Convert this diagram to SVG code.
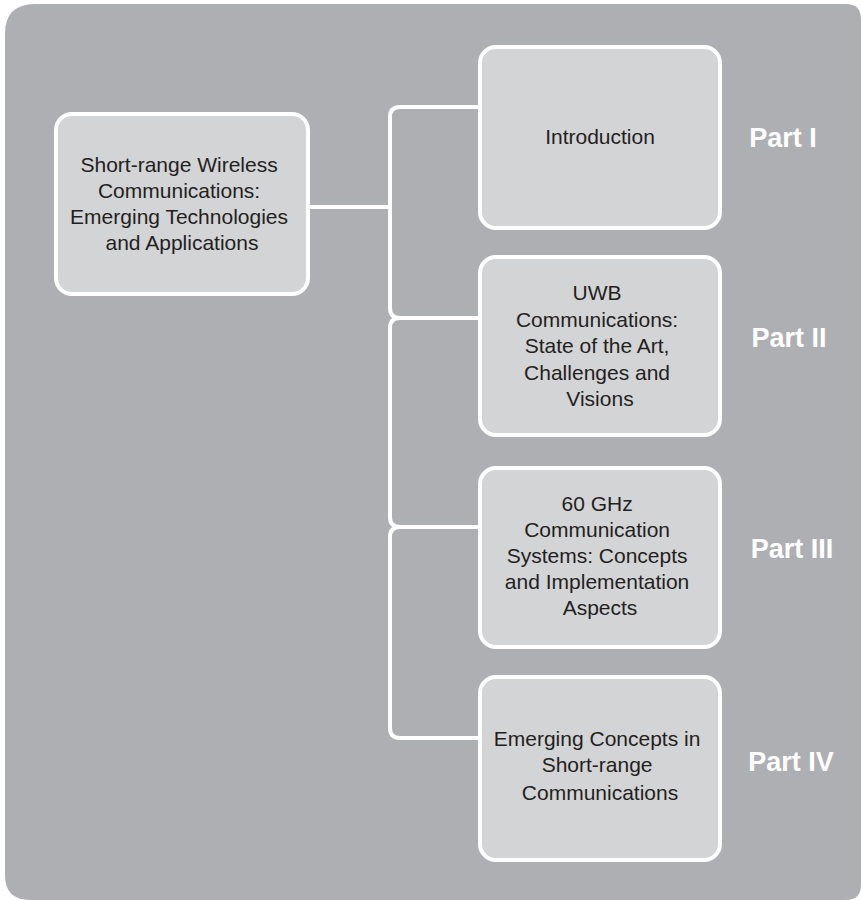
<svg xmlns="http://www.w3.org/2000/svg" width="861" height="900" viewBox="0 0 861 900">
  <style>
    .box { fill: #D3D4D6; stroke: #FFFFFF; stroke-width: 4; }
    .label { font-family: "Liberation Sans", Arial, sans-serif; font-size: 21px; fill: #231F20; text-anchor: middle; }
    .part { font-family: "Liberation Sans", Arial, sans-serif; font-size: 27px; font-weight: bold; fill: #FFFFFF; text-anchor: middle; }
    .link { fill: none; stroke: #FFFFFF; stroke-width: 4; stroke-linejoin: round; }
  </style>

  <!-- panel -->
  <path d="M 5 34 Q 5 4 35 4 H 846 Q 861 4 861 19 V 885 Q 861 900 846 900 H 30 Q 5 900 5 875 Z" fill="#AEAFB3"/>

  <!-- connectors -->
  <g id="connectors">
    <path class="link" d="M 308 207 H 390"/>
    <path class="link" d="M 480 107 H 400 Q 390 107 390 117 V 308 Q 390 318 400 318 H 480"/>
    <path class="link" d="M 400 318 Q 390 318 390 328 V 517 Q 390 527 400 527 H 480"/>
    <path class="link" d="M 400 527 Q 390 527 390 537 V 728 Q 390 738 400 738 H 480"/>
  </g>

  <!-- root -->
  <g id="root">
    <rect class="box" x="56" y="114" width="252" height="180" rx="16"/>
    <text class="label" x="182">
      <tspan x="182" y="172">Short-range Wireless</tspan>
      <tspan x="182" y="198">Communications:</tspan>
      <tspan x="182" y="224">Emerging Technologies</tspan>
      <tspan x="182" y="250">and Applications</tspan>
    </text>
  </g>

  <!-- Part I -->
  <g id="part1">
    <rect class="box" x="480" y="47" width="240" height="181" rx="16"/>
    <text class="label" x="600" y="144">Introduction</text>
    <text class="part" x="783" y="147">Part I</text>
  </g>

  <!-- Part II -->
  <g id="part2">
    <rect class="box" x="480" y="257" width="240" height="178" rx="16"/>
    <text class="label">
      <tspan x="600" y="300">UWB</tspan>
      <tspan x="600" y="327">Communications:</tspan>
      <tspan x="600" y="353">State of the Art,</tspan>
      <tspan x="600" y="380">Challenges and</tspan>
      <tspan x="600" y="406">Visions</tspan>
    </text>
    <text class="part" x="789" y="347">Part II</text>
  </g>

  <!-- Part III -->
  <g id="part3">
    <rect class="box" x="480" y="468" width="240" height="179" rx="16"/>
    <text class="label">
      <tspan x="600" y="511">60 GHz</tspan>
      <tspan x="600" y="537">Communication</tspan>
      <tspan x="600" y="563">Systems: Concepts</tspan>
      <tspan x="600" y="589">and Implementation</tspan>
      <tspan x="600" y="615">Aspects</tspan>
    </text>
    <text class="part" x="792" y="558">Part III</text>
  </g>

  <!-- Part IV -->
  <g id="part4">
    <rect class="box" x="480" y="677" width="240" height="183" rx="16"/>
    <text class="label">
      <tspan x="600" y="746">Emerging Concepts in</tspan>
      <tspan x="600" y="772">Short-range</tspan>
      <tspan x="600" y="800">Communications</tspan>
    </text>
    <text class="part" x="791" y="771">Part IV</text>
  </g>
</svg>
